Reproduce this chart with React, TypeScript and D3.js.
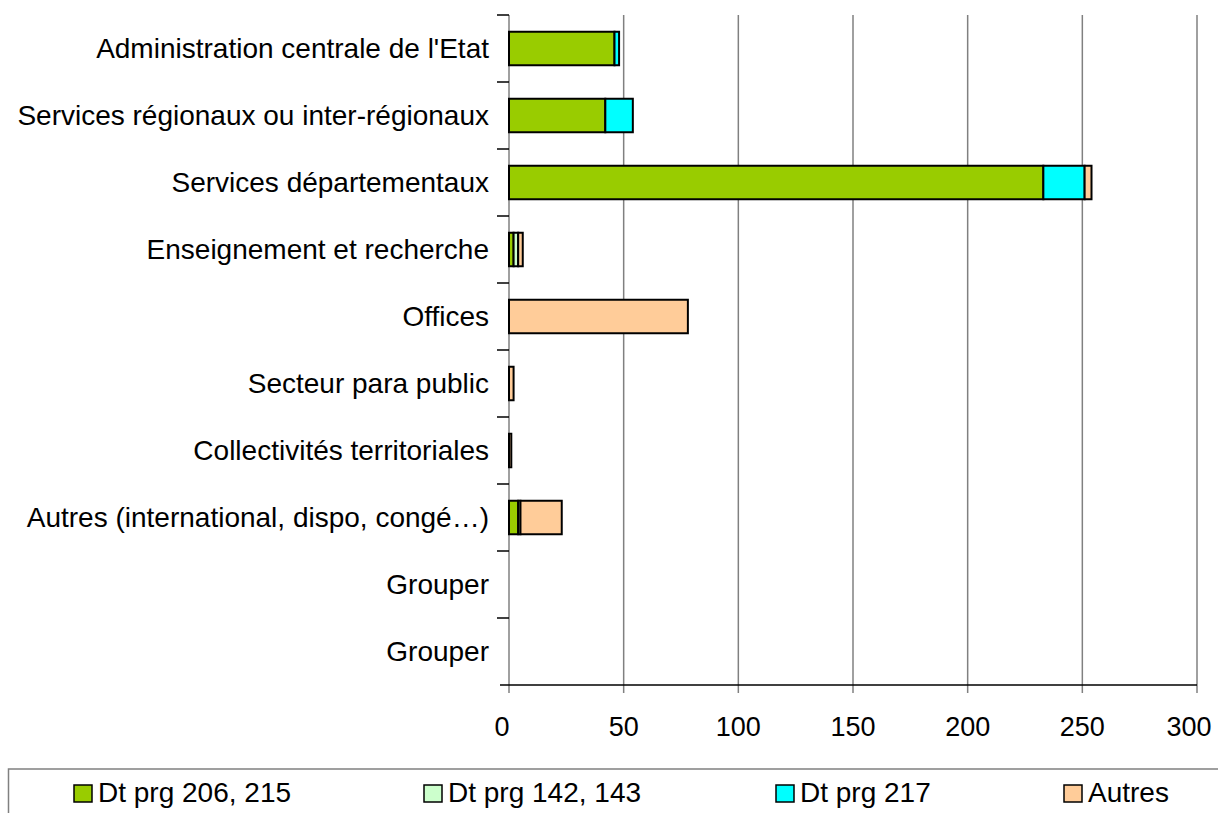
import React from "react";
import * as d3 from "d3";

const categories = [
  "Administration centrale de l'Etat",
  "Services régionaux ou inter-régionaux",
  "Services départementaux",
  "Enseignement et recherche",
  "Offices",
  "Secteur para public",
  "Collectivités territoriales",
  "Autres (international, dispo, congé…)",
  "Grouper",
  "Grouper",
];
const seriesNames = ["Dt prg 206, 215", "Dt prg 142, 143", "Dt prg 217", "Autres"];
const s206 = [46, 42, 233, 2, 0, 0, 0, 4, 0, 0];
const s142 = [0, 0, 0, 2, 0, 0, 0, 1, 0, 0];
const s217 = [2, 12, 18, 0, 0, 0, 0, 0, 0, 0];
const sAutres = [0, 0, 3, 2, 78, 2, 1, 18, 0, 0];
const colors = ["#99cc00", "#ccffcc", "#00ffff", "#ffcc99"];
const xTicks = [0, 50, 100, 150, 200, 250, 300];

export default function App() {
  const W = 1218, H = 813;
  const left = 509, right = 1197, top = 15, bottom = 685;
  const x = d3.scaleLinear().domain([0, 300]).range([left, right]);
  const y = d3.scaleBand<number>().domain(categories.map((_, i) => i)).range([top, bottom]).paddingInner(0.5).paddingOuter(0.25);
  const band = (bottom - top) / categories.length;
  const series = [s206, s142, s217, sAutres];
  const font = "'Liberation Sans', Arial, sans-serif";
  const legendX = [74, 424, 776, 1064];

  return (
    <svg width={W} height={H} style={{ position: "absolute", left: 0, top: 0 }} fontFamily={font}>
      <rect x={0} y={0} width={W} height={H} fill="#fff" />
      {xTicks.map((t) => (
        <line key={t} x1={x(t)} x2={x(t)} y1={top} y2={bottom + 8} stroke="#808080" strokeWidth={1.5} />
      ))}
      <line x1={left - 9} x2={right} y1={bottom} y2={bottom} stroke="#000" strokeWidth={1.5} />
      {d3.range(categories.length).map((i) => (
        <line key={i} x1={left - 12} x2={left} y1={top + band * i} y2={top + band * i} stroke="#000" strokeWidth={1.5} />
      ))}
      {categories.map((c, i) => {
        let acc = 0;
        return (
          <g key={i}>
            {series.map((s, k) => {
              const v = s[i];
              const x0 = x(acc);
              acc += v;
              if (v <= 0) return null;
              return (
                <rect key={k} x={x0} y={y(i)!} width={x(acc) - x0} height={y.bandwidth()} fill={colors[k]} stroke="#000" strokeWidth={2} />
              );
            })}
            <text x={489} y={(y(i) ?? 0) + y.bandwidth() / 2} dy="0.35em" textAnchor="end" fontSize={28}>{c}</text>
          </g>
        );
      })}
      {xTicks.map((t, i) => (
        <text key={t} x={x(t)} dx={i === 0 ? -7 : i === xTicks.length - 1 ? -8 : 0} y={736} textAnchor="middle" fontSize={27}>{t}</text>
      ))}
      <rect x={8.5} y={769} width={1220} height={60} fill="#fff" stroke="#808080" strokeWidth={1.5} />
      {seriesNames.map((n, k) => (
        <g key={n}>
          <rect x={legendX[k]} y={785} width={18} height={17} fill={colors[k]} stroke="#000" strokeWidth={1.5} />
          <text x={legendX[k] + 24} y={802} fontSize={28}>{n}</text>
        </g>
      ))}
    </svg>
  );
}
